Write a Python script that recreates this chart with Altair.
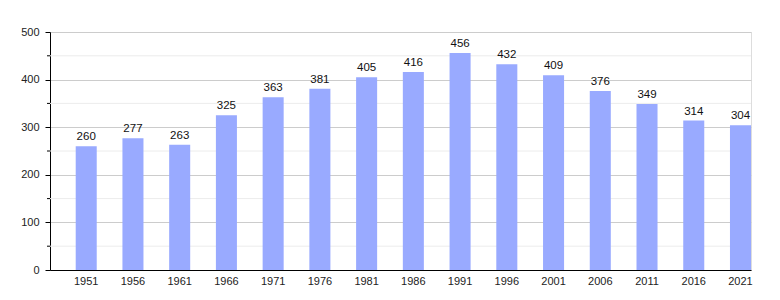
import altair as alt
import pandas as pd

years = ["1951", "1956", "1961", "1966", "1971", "1976", "1981", "1986",
         "1991", "1996", "2001", "2006", "2011", "2016", "2021"]
values = [260, 277, 263, 325, 363, 381, 405, 416, 456, 432, 409, 376, 349, 314, 304]
major_ticks = [0, 100, 200, 300, 400, 500]
minor_ticks = [50, 150, 250, 350, 450]

df = pd.DataFrame({"year": years, "value": values})
minor_df = pd.DataFrame({"v": minor_ticks})

FONT = "Liberation Sans"

yscale = alt.Scale(domain=[0, 500], nice=False)
xscale = alt.Scale(paddingInner=0.55, paddingOuter=0.275, align=1)
yaxis = alt.Axis(title=None, values=major_ticks, tickSize=5, tickColor="#000000",
                 domainColor="#000000", gridColor="#cccccc", grid=True,
                 labelFont=FONT, labelFontSize=11, labelColor="#222222",
                 labelPadding=6)

minor_grid = alt.Chart(minor_df).mark_rule(color="#ececec", strokeWidth=1).encode(
    y=alt.Y("v:Q", scale=yscale, axis=yaxis, title=None),
    x=alt.value(0), x2=alt.value(701),
)
minor_tick = alt.Chart(minor_df).mark_rule(color="#000000", strokeWidth=1).encode(
    y=alt.Y("v:Q", scale=yscale, axis=yaxis, title=None),
    x=alt.value(-3), x2=alt.value(0),
)

bars = alt.Chart(df).mark_bar(color="#99aaff").encode(
    x=alt.X("year:N", scale=xscale, sort=years,
            axis=alt.Axis(title=None, labelAngle=0, ticks=False, domainColor="#000000",
                          labelFont=FONT, labelFontSize=11, labelColor="#222222",
                          labelPadding=5, grid=False)),
    y=alt.Y("value:Q", scale=yscale, axis=yaxis, title=None),
)

labels = alt.Chart(df).mark_text(baseline="bottom", dy=-4, font=FONT, fontSize=11.5,
                                 color="#111111").encode(
    x=alt.X("year:N", scale=xscale, sort=years),
    y=alt.Y("value:Q", scale=yscale, axis=yaxis, title=None),
    text="value:Q",
)

chart = alt.layer(minor_grid, minor_tick, bars, labels).properties(
    width=701, height=238,
    autosize=alt.AutoSizeParams(type="none"),
    padding={"left": 50, "top": 32, "right": 29, "bottom": 30},
).configure_view(stroke=None).configure(background="white")

chart.save("out.html", embed_options={"renderer": "svg", "actions": False})
